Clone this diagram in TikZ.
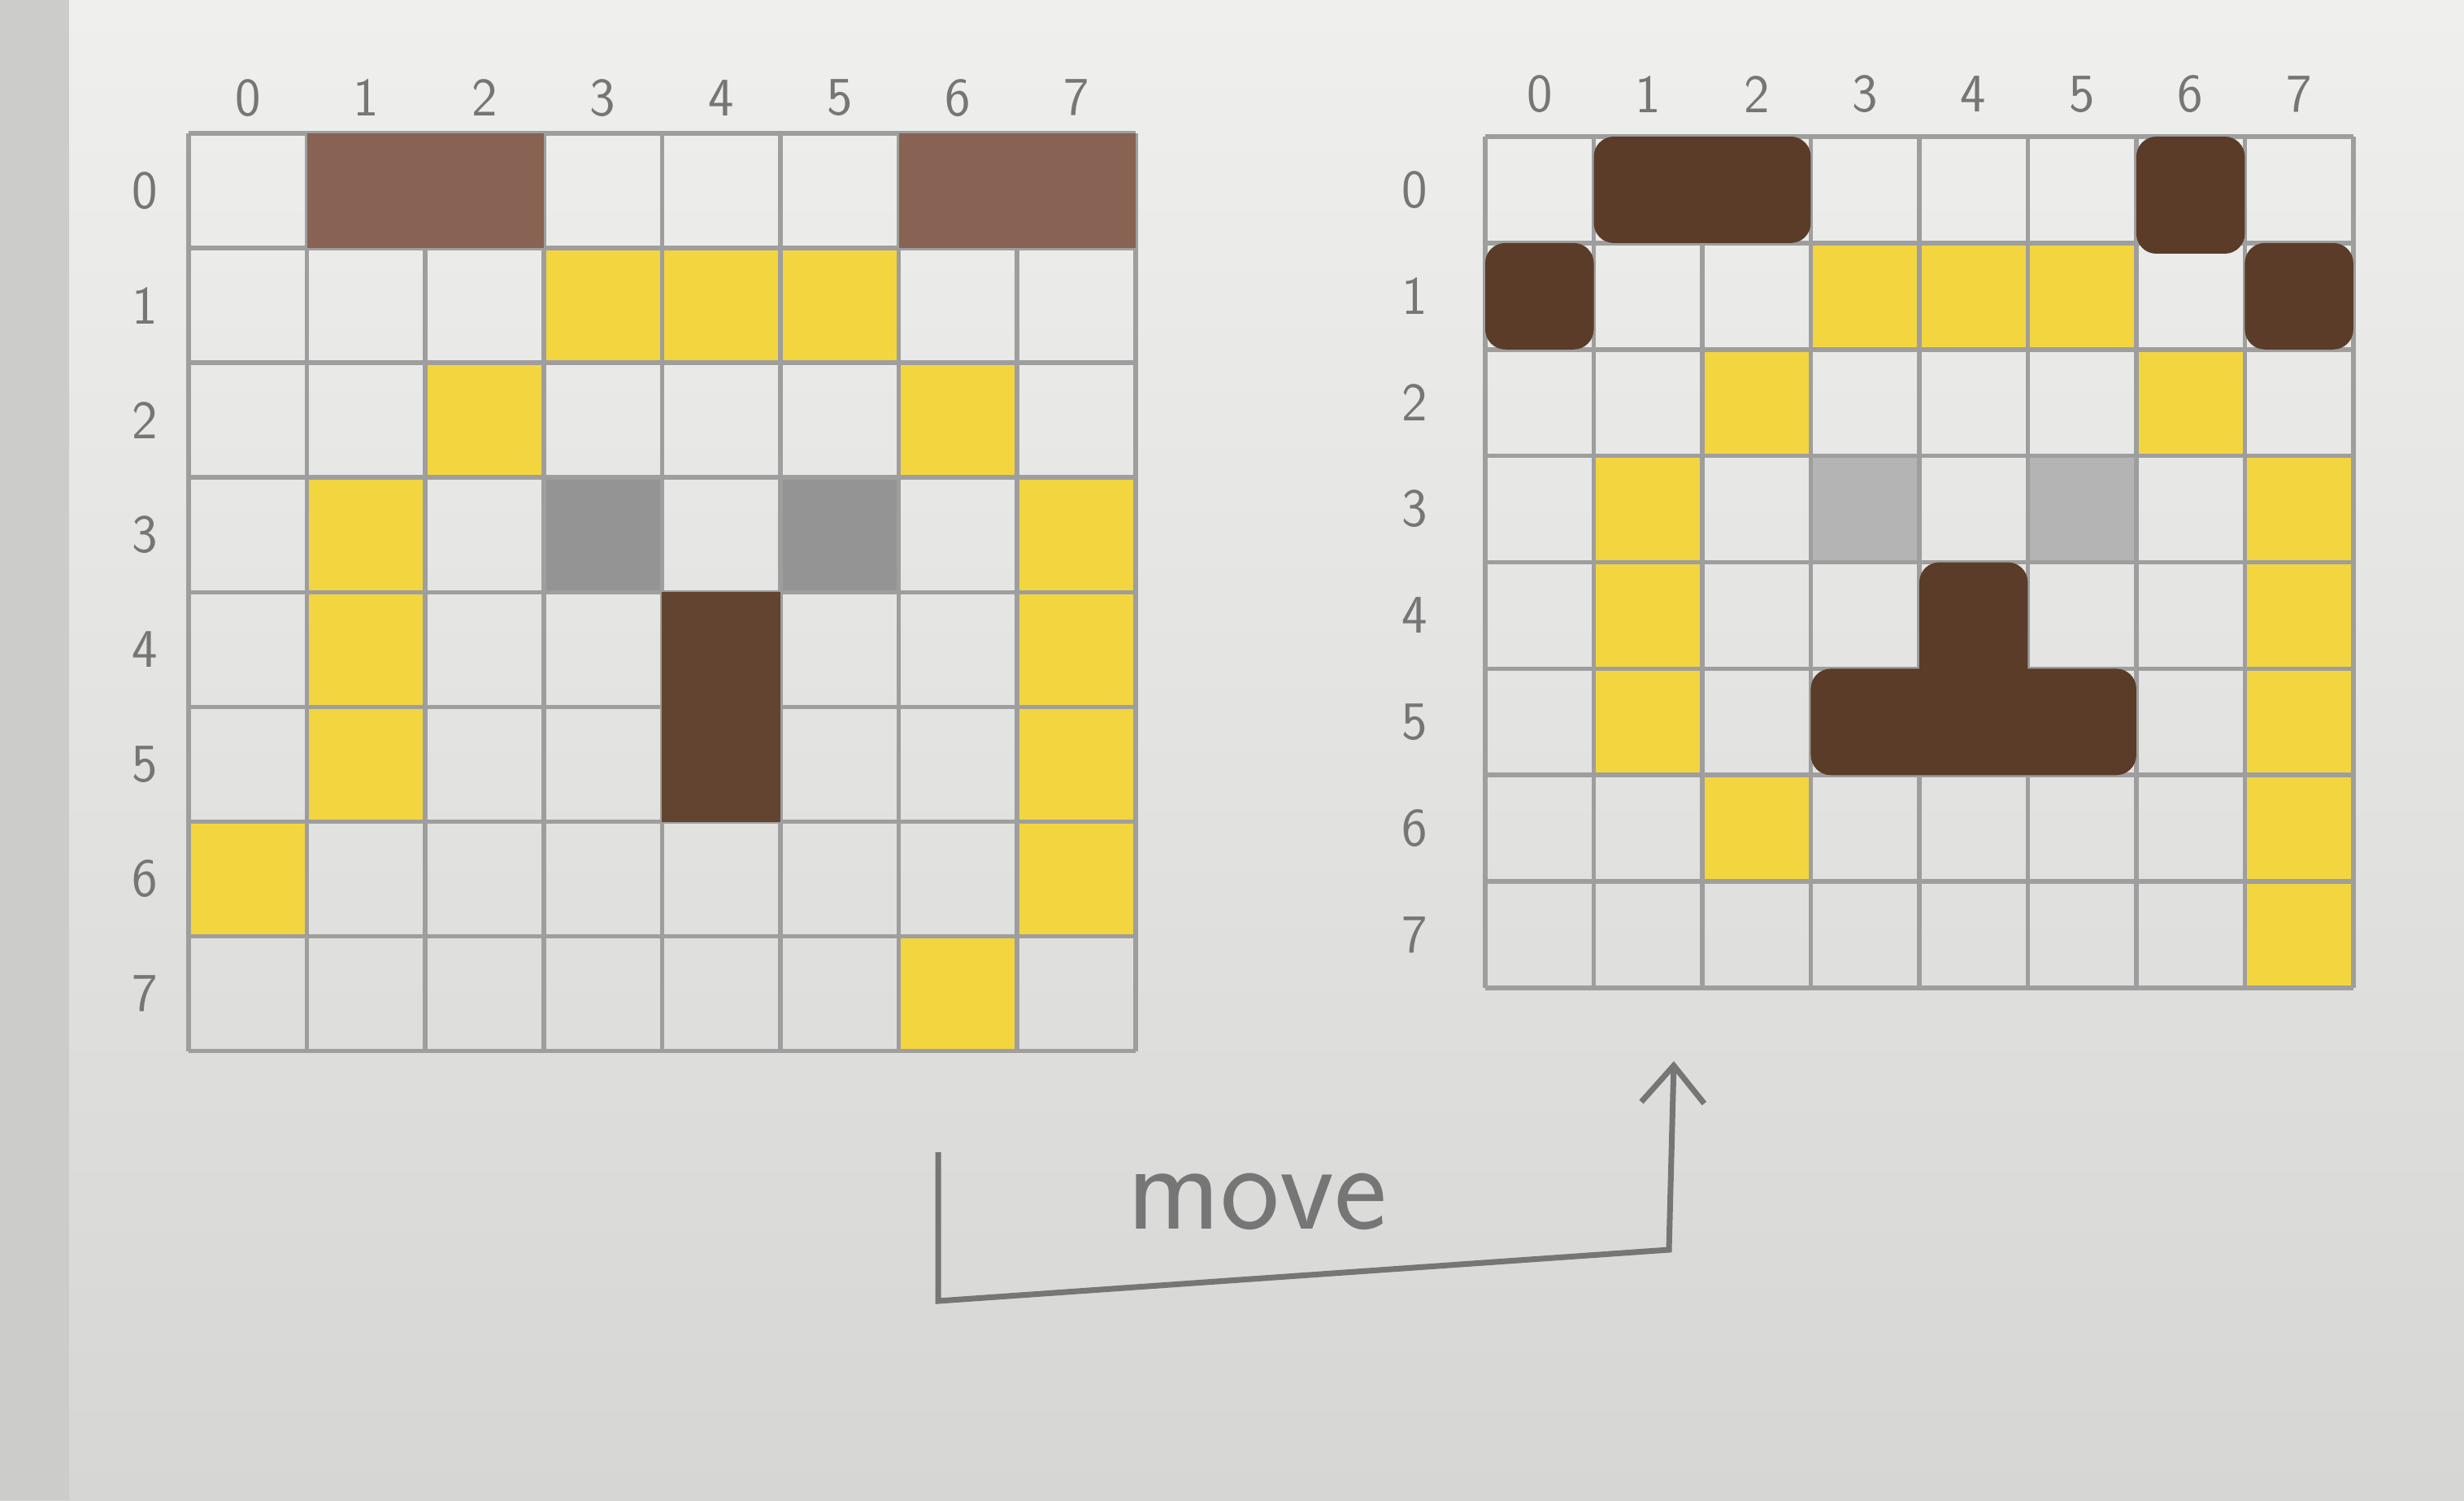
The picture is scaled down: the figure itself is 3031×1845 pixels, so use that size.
\documentclass[tikz,border=0pt]{standalone}
\usetikzlibrary{arrows.meta}

\definecolor{paperhi}{RGB}{239,239,237}
\definecolor{paperlo}{RGB}{214,214,213}
\definecolor{paperedge}{RGB}{204,204,202}
\definecolor{pencil}{RGB}{158,158,158}
\definecolor{lead}{RGB}{118,118,118}
\definecolor{crayon}{RGB}{243,213,64}
\definecolor{cocoa}{RGB}{136,98,82}
\definecolor{marker}{RGB}{90,60,40}
\definecolor{smudge}{RGB}{148,148,148}
\definecolor{smudgelt}{RGB}{180,180,180}

\begin{document}
\begin{tikzpicture}[
  x=0.01cm,y=-0.01cm,
  gridline/.style={pencil,line width=1.6pt},
  yel/.style={fill=crayon},
  lbl/.style={text=lead,font=\sffamily\fontsize{19}{22}\selectfont},
  movearrow/.style={lead,line width=2pt,line join=miter,
    -{Straight Barb[length=13pt,width=22pt,line width=2pt]}}
]
  \useasboundingbox (0,0) rectangle (3031,1845);
  \shade[top color=paperhi,bottom color=paperlo] (0,0) rectangle (3031,1845);
  \fill[paperedge] (0,0) rectangle (85,1845);

  % board before the move
  \begin{scope}[shift={(232,164)},x=1.455cm,y=-1.41cm]
    \foreach \c/\r in {3/1,4/1,5/1,2/2,6/2,1/3,7/3,1/4,7/4,1/5,7/5,0/6,7/6,6/7}
      \fill[yel] (\c,\r) rectangle ++(1,1);
    \fill[smudge] (3,3) rectangle ++(1,1);
    \fill[smudge] (5,3) rectangle ++(1,1);
    \foreach \k in {0,...,8} {
      \draw[gridline] (\k,0) -- (\k,8);
      \draw[gridline] (0,\k) -- (8,\k);
    }
    \fill[cocoa] (1,0) rectangle (3,1);
    \fill[cocoa] (6,0) rectangle (8,1);
    \fill[marker!80!cocoa] (4,4) rectangle (5,6);
    \foreach \i in {0,...,7} {
      \node[lbl] (Lc\i) at (\i+0.5,-0.31) {\i};
      \node[lbl] (Lr\i) at (-0.37,\i+0.5) {\i};
    }
  \end{scope}

  % board after the move
  \begin{scope}[shift={(1827,168)},x=1.334cm,y=-1.308cm]
    \foreach \c/\r in {3/1,4/1,5/1,2/2,6/2,1/3,7/3,1/4,7/4,1/5,7/5,2/6,7/6,7/7}
      \fill[yel] (\c,\r) rectangle ++(1,1);
    \fill[smudgelt] (3,3) rectangle ++(1,1);
    \fill[smudgelt] (5,3) rectangle ++(1,1);
    \foreach \k in {0,...,8} {
      \draw[gridline] (\k,0) -- (\k,8);
      \draw[gridline] (0,\k) -- (8,\k);
    }
    \begin{scope}[marker,rounded corners=7pt]
      \fill (1,0) rectangle (3,1);
      \fill (0,1) rectangle (1,2);
      \fill (6,0) rectangle (7,1.1);
      \fill (7,1) rectangle (8,2);
      \fill (3,5) rectangle (6,6);
      \fill (4,4) rectangle (5,5.3);
    \end{scope}
    \foreach \i in {0,...,7} {
      \node[lbl] (Rc\i) at (\i+0.5,-0.40) {\i};
      \node[lbl] (Rr\i) at (-0.65,\i+0.5) {\i};
    }
  \end{scope}

  % move arrow
  \coordinate (mvA) at (1154,1417);
  \coordinate (mvB) at (1154,1600);
  \coordinate (mvC) at (2053,1537);
  \coordinate (mvD) at (2059,1305);
  \draw[movearrow] (mvA) -- (mvB) -- (mvC) -- (mvD);
  \node[text=lead,font=\sffamily\fontsize{44}{50}\selectfont] (move) at (1546,1478) {move};
\end{tikzpicture}
\end{document}
